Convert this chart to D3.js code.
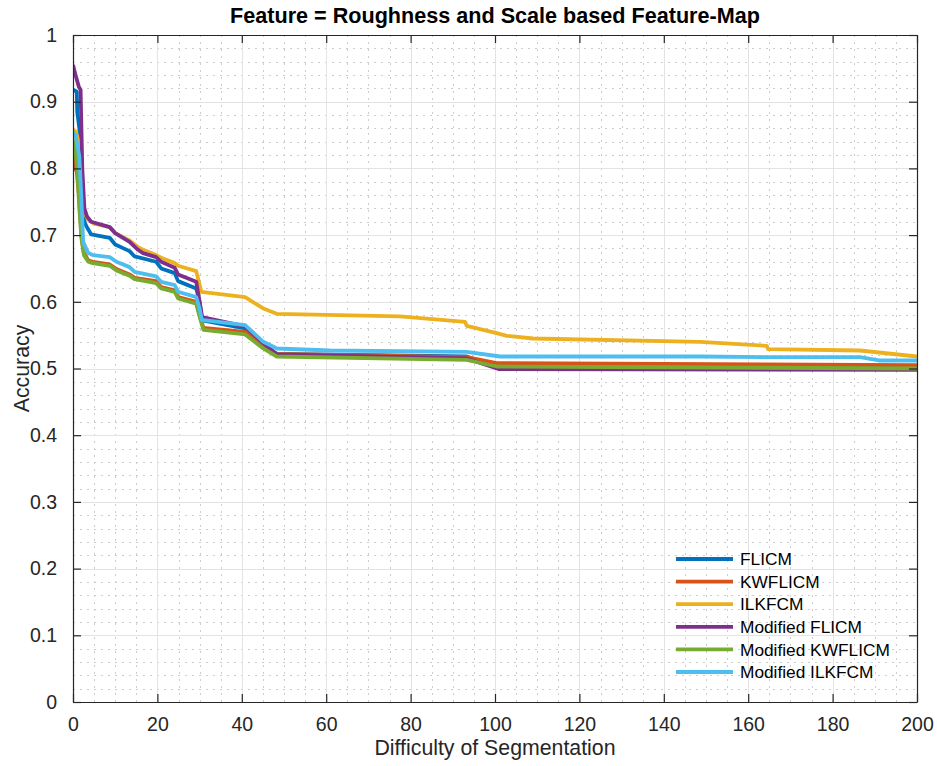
<!DOCTYPE html>
<html>
<head>
<meta charset="utf-8">
<script src="https://cdn.jsdelivr.net/npm/d3@7/dist/d3.min.js"></script>
<style>
  html, body { margin: 0; padding: 0; background: #ffffff; }
  svg { display: block; font-family: "Liberation Sans", Arial, Helvetica, sans-serif; }
</style>
</head>
<body>
<svg id="chart" width="937" height="766"></svg>
<script>
// Accuracy vs. difficulty of segmentation, six clustering methods
const seriesNames = ["FLICM", "KWFLICM", "ILKFCM", "Modified FLICM", "Modified KWFLICM", "Modified ILKFCM"];
const seriesColors = ["#0072BD", "#D95319", "#EDB120", "#7E2F8E", "#77AC30", "#4DBEEE"];

const xTicks = [0, 20, 40, 60, 80, 100, 120, 140, 160, 180, 200];
const yTicks = [0, 0.1, 0.2, 0.3, 0.4, 0.5, 0.6, 0.7, 0.8, 0.9, 1];

// [difficulty, accuracy] pairs per method
const flicm = [[0,0.918],[0.9,0.915],[1.0,0.885],[1.5,0.86],[2.2,0.75],[2.8,0.718],[3.3,0.712],[4.3,0.701],[8.7,0.696],[10.0,0.686],[13.4,0.676],[14.6,0.668],[19.7,0.660],[20.9,0.650],[24.1,0.643],[24.9,0.631],[29.2,0.620],[30.0,0.600],[30.6,0.572],[40.8,0.560],[45.1,0.535],[48.3,0.522],[93.3,0.518],[100.4,0.502],[200,0.501]];

const kwflicm = [[0,0.835],[0.5,0.80],[0.9,0.795],[1.4,0.76],[2.0,0.70],[2.5,0.675],[3.6,0.662],[4.7,0.660],[8.7,0.656],[10.3,0.649],[13.4,0.641],[14.6,0.636],[19.7,0.631],[20.9,0.622],[24.1,0.617],[24.9,0.607],[29.2,0.600],[30.0,0.580],[30.9,0.561],[40.8,0.555],[45.1,0.532],[48.3,0.522],[93.3,0.517],[100.4,0.508],[200,0.505]];

const ilkfcm = [[0,0.858],[0.7,0.855],[1.3,0.84],[2.0,0.76],[2.6,0.735],[3.5,0.724],[5.0,0.717],[8.7,0.712],[10.0,0.703],[13.4,0.692],[15.4,0.682],[16.6,0.678],[19.7,0.670],[20.9,0.666],[24.1,0.658],[24.9,0.654],[29.2,0.646],[30.4,0.615],[40.8,0.607],[45.1,0.590],[48.3,0.582],[77.5,0.578],[92.9,0.570],[93.3,0.564],[100.4,0.553],[102.8,0.549],[109,0.545],[148.6,0.540],[164.4,0.534],[164.7,0.529],[186.5,0.527],[200,0.518]];

const modFlicm = [[0,0.955],[0.6,0.94],[1.4,0.922],[1.8,0.918],[2.2,0.80],[2.7,0.74],[3.3,0.728],[4.3,0.720],[8.7,0.712],[10.0,0.703],[13.4,0.690],[15.4,0.678],[16.6,0.673],[19.7,0.667],[20.9,0.660],[24.1,0.651],[24.9,0.641],[29.2,0.630],[30.0,0.600],[30.6,0.577],[40.8,0.563],[45.1,0.538],[48.3,0.521],[93.3,0.515],[101,0.499],[200,0.498]];

const modKwflicm = [[0,0.843],[0.5,0.83],[1.0,0.80],[1.5,0.74],[2.0,0.695],[2.6,0.67],[3.6,0.660],[4.7,0.658],[8.7,0.654],[10.3,0.647],[13.4,0.639],[14.6,0.634],[19.7,0.628],[20.9,0.620],[24.1,0.615],[24.9,0.605],[29.2,0.597],[30.0,0.578],[30.9,0.558],[40.8,0.551],[45.1,0.530],[48.3,0.518],[93.3,0.513],[100.4,0.503],[200,0.500]];

const modIlkfcm = [[0,0.853],[0.6,0.85],[1.5,0.818],[2.0,0.753],[2.4,0.69],[3.6,0.673],[4.7,0.670],[8.7,0.667],[10.3,0.660],[13.4,0.652],[14.6,0.645],[19.7,0.638],[20.9,0.630],[24.1,0.625],[24.9,0.615],[29.2,0.607],[30.0,0.590],[30.5,0.573],[40.8,0.565],[45.1,0.540],[48.3,0.530],[60.9,0.527],[93.3,0.525],[101.2,0.518],[148.6,0.518],[164.4,0.517],[186.5,0.517],[191,0.512],[200,0.512]];

const seriesData = [flicm, kwflicm, ilkfcm, modFlicm, modKwflicm, modIlkfcm];

const W = 937, H = 766;
const margin = { top: 35, right: 20, bottom: 64, left: 73 };
const iw = W - margin.left - margin.right;
const ih = H - margin.top - margin.bottom;

const svg = d3.select("#chart");
const g = svg.append("g").attr("transform", `translate(${margin.left},${margin.top})`);

const x = d3.scaleLinear().domain([0, 200]).range([0, iw]);
const y = d3.scaleLinear().domain([0, 1]).range([ih, 0]);

// background
g.append("rect").attr("width", iw).attr("height", ih).attr("fill", "#ffffff");

// minor grid (dotted)
const xMinor = d3.range(0, 201, 5).filter(v => v % 20 !== 0);
const yMinor = d3.range(0, 51, 1).map(v => v / 50).filter((v, i) => i % 5 !== 0);
const minor = g.append("g").attr("class", "minor-grid")
  .attr("stroke", "#cdcdcd").attr("stroke-width", 1).attr("stroke-dasharray", "2,5");
minor.selectAll("line.vx").data(xMinor).join("line")
  .attr("x1", d => Math.round(x(d)) + 0.5).attr("x2", d => Math.round(x(d)) + 0.5)
  .attr("y1", 0).attr("y2", ih);
minor.selectAll("line.hy").data(yMinor).join("line")
  .attr("y1", d => Math.round(y(d)) + 0.5).attr("y2", d => Math.round(y(d)) + 0.5)
  .attr("x1", 0).attr("x2", iw);

// major grid
const major = g.append("g").attr("class", "major-grid")
  .attr("stroke", "#e3e3e3").attr("stroke-width", 1);
major.selectAll("line.vx").data(xTicks).join("line")
  .attr("x1", d => Math.round(x(d)) + 0.5).attr("x2", d => Math.round(x(d)) + 0.5)
  .attr("y1", 0).attr("y2", ih);
major.selectAll("line.hy").data(yTicks).join("line")
  .attr("y1", d => Math.round(y(d)) + 0.5).attr("y2", d => Math.round(y(d)) + 0.5)
  .attr("x1", 0).attr("x2", iw);

// data lines
svg.append("defs").append("clipPath").attr("id", "plotClip")
  .append("rect").attr("x", 0).attr("y", -3).attr("width", iw).attr("height", ih + 3);

const line = d3.line().x(d => x(d[0])).y(d => y(d[1]));
g.append("g").attr("clip-path", "url(#plotClip)")
  .selectAll("path").data(seriesData).join("path")
  .attr("d", line)
  .attr("fill", "none")
  .attr("stroke", (d, i) => seriesColors[i])
  .attr("stroke-width", 3.8)
  .attr("stroke-linejoin", "round")
  .attr("stroke-linecap", "butt");

// axes (box with inward ticks)
const axisColor = "#262626";
const tickLen = 8;
const xAxis = g.append("g").attr("transform", `translate(0,${ih})`)
  .call(d3.axisBottom(x).tickValues(xTicks).tickSizeInner(-tickLen).tickSizeOuter(0).tickPadding(tickLen + 8).tickFormat(d3.format("d")));
const yAxis = g.append("g")
  .call(d3.axisLeft(y).tickValues(yTicks).tickSizeInner(-tickLen).tickSizeOuter(0).tickPadding(tickLen + 8).tickFormat(d => d === 0 || d === 1 ? String(d) : d3.format(".1f")(d)));
const xTop = g.append("g")
  .call(d3.axisTop(x).tickValues(xTicks).tickSizeInner(-tickLen).tickSizeOuter(0).tickFormat(""));
const yRight = g.append("g").attr("transform", `translate(${iw},0)`)
  .call(d3.axisRight(y).tickValues(yTicks).tickSizeInner(-tickLen).tickSizeOuter(0).tickFormat(""));

[xAxis, yAxis, xTop, yRight].forEach(a => {
  a.select(".domain").attr("stroke", axisColor).attr("stroke-width", 1.2);
  a.selectAll(".tick line").attr("stroke", axisColor).attr("stroke-width", 1.2);
  a.selectAll(".tick text").attr("fill", axisColor)
    .style("font-family", "'Liberation Sans', Arial, sans-serif").style("font-size", "19.5px");
});
xAxis.selectAll(".tick text").attr("dy", "0.68em");

// title and axis labels
svg.append("text")
  .attr("x", margin.left + iw / 2).attr("y", 23)
  .attr("text-anchor", "middle")
  .style("font-size", "21.6px").style("font-weight", "bold").attr("fill", "#000")
  .text("Feature = Roughness and Scale based Feature-Map");

svg.append("text")
  .attr("x", margin.left + iw / 2).attr("y", 755)
  .attr("text-anchor", "middle")
  .style("font-size", "21.3px").attr("fill", axisColor)
  .text("Difficulty of Segmentation");

svg.append("text")
  .attr("transform", `translate(29,${margin.top + ih / 2}) rotate(-90)`)
  .attr("text-anchor", "middle")
  .style("font-size", "21.3px").attr("fill", axisColor)
  .text("Accuracy");

// legend (no box)
const legend = svg.append("g").attr("transform", "translate(676,559)");
const rowH = 22.6;
const items = legend.selectAll("g").data(seriesNames).join("g")
  .attr("transform", (d, i) => `translate(0,${i * rowH})`);
items.append("line")
  .attr("x1", 0).attr("x2", 57).attr("y1", 0).attr("y2", 0)
  .attr("stroke", (d, i) => seriesColors[i]).attr("stroke-width", 3.8);
items.append("text")
  .attr("x", 64).attr("y", 0).attr("dy", "0.36em")
  .style("font-size", "17.3px").attr("fill", "#000")
  .text(d => d);
</script>
</body>
</html>
